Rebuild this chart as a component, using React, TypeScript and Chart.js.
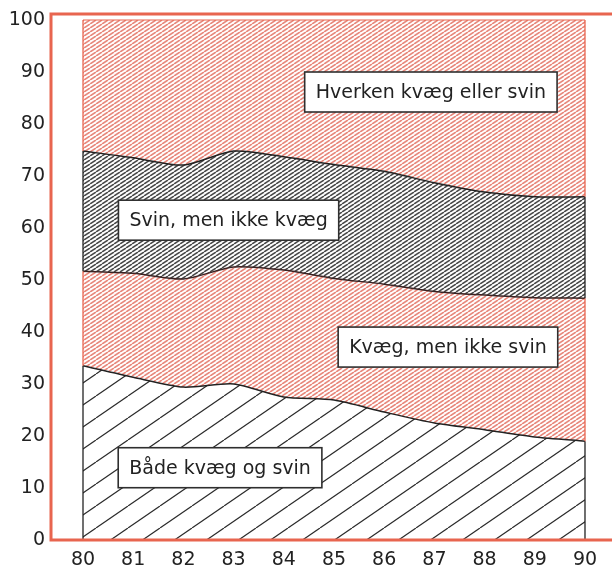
import React, { useEffect, useRef } from "react";
import { Chart, registerables } from "chart.js";

Chart.register(...registerables);

// ---- data ----
const years = [80, 81, 82, 83, 84, 85, 86, 87, 88, 89, 90];
const bothShare = [33.5, 31.3, 29.4, 30.0, 27.5, 26.9, 24.6, 22.5, 21.2, 19.8, 19.0];
const cattleOnlyShare = [18.2, 20.0, 20.8, 22.5, 24.4, 23.4, 24.6, 25.3, 25.9, 26.8, 27.5];
const pigOnlyShare = [23.1, 22.2, 21.9, 22.3, 21.8, 21.9, 21.7, 20.9, 19.8, 19.4, 19.5];
const neitherShare = [25.2, 26.5, 27.9, 25.2, 26.3, 27.8, 29.1, 31.3, 33.1, 34.0, 34.0];
const seriesNames = [
  "Både kvæg og svin",
  "Kvæg, men ikke svin",
  "Svin, men ikke kvæg",
  "Hverken kvæg eller svin",
];
const yTicks = [0, 10, 20, 30, 40, 50, 60, 70, 80, 90, 100];
const xTicks = years;

// label anchors (data coordinates) for the region labels, same order as seriesNames
const labelAnchors = [
  [82.73, 13.9],
  [87.27, 37.1],
  [82.9, 61.5],
  [86.93, 86.15],
];

const FRAME = "#e8654f";
const FONT = "'DejaVu Sans', sans-serif";

function makeHatch(w: number, h: number, bg: string, color: string, lw: number) {
  const c = document.createElement("canvas");
  c.width = w;
  c.height = h;
  const g = c.getContext("2d")!;
  g.fillStyle = bg;
  g.fillRect(0, 0, w, h);
  g.strokeStyle = color;
  g.lineWidth = lw;
  for (const x0 of [-w, 0, w]) {
    g.beginPath();
    g.moveTo(x0, h);
    g.lineTo(x0 + w, 0);
    g.stroke();
  }
  return g.createPattern(c, "repeat")!;
}

export default function App() {
  const ref = useRef<HTMLCanvasElement>(null);
  useEffect(() => {
    const canvas = ref.current!;
    const ctx = canvas.getContext("2d")!;
    const coarse = makeHatch(32, 22, "#ffffff", "#2a2a2a", 1.2);
    const pink = makeHatch(6, 4, "#ffffff", "#e8887c", 1.7);
    const gray = makeHatch(6, 4, "#ffffff", "#484848", 1.5);

    const edgeColors = ["#222222", FRAME, "#222222", FRAME];

    const decor = {
      id: "decor",
      afterDatasetsDraw(chart: any) {
        const c = chart.ctx;
        const area = chart.chartArea;
        const xs = chart.scales.x;
        const ys = chart.scales.y;
        c.save();
        for (let i = 0; i < chart.data.datasets.length; i++) {
          const meta = chart.getDatasetMeta(i);
          const prev = i > 0 ? chart.getDatasetMeta(i - 1) : null;
          for (const idx of [0, years.length - 1]) {
            const top = meta.data[idx].y;
            const bottom = prev ? prev.data[idx].y : ys.getPixelForValue(0);
            const x = xs.getPixelForValue(years[idx]);
            c.strokeStyle = edgeColors[i];
            c.lineWidth = 1.3;
            c.beginPath();
            c.moveTo(x, top);
            c.lineTo(x, bottom);
            c.stroke();
          }
        }
        // frame (top, left, bottom)
        c.strokeStyle = FRAME;
        c.lineWidth = 3;
        c.beginPath();
        c.moveTo(area.right + 2, area.top);
        c.lineTo(area.left, area.top);
        c.lineTo(area.left, area.bottom);
        c.lineTo(area.right + 2, area.bottom);
        c.stroke();
        // label boxes
        c.font = `19px ${FONT}`;
        c.textAlign = "center";
        c.textBaseline = "middle";
        for (let i = 0; i < seriesNames.length; i++) {
          const [lx, ly] = labelAnchors[i];
          const px = xs.getPixelForValue(lx);
          const py = ys.getPixelForValue(ly);
          const tw = c.measureText(seriesNames[i]).width;
          const bw = tw + 22;
          const bh = 40;
          c.fillStyle = "#ffffff";
          c.fillRect(px - bw / 2, py - bh / 2, bw, bh);
          c.strokeStyle = "#2f2f2f";
          c.lineWidth = 1.6;
          c.strokeRect(px - bw / 2, py - bh / 2, bw, bh);
          c.fillStyle = "#222222";
          c.fillText(seriesNames[i], px, py + 1);
        }
        c.restore();
      },
    };

    const mk = (vals: number[]) => years.map((y, i) => ({ x: y, y: vals[i] }));

    const chart = new Chart(ctx, {
      type: "line",
      data: {
        datasets: [
          {
            label: seriesNames[0],
            data: mk(bothShare),
            backgroundColor: coarse as any,
            borderColor: "#222222",
            borderWidth: 1.5,
            fill: "origin",
            pointRadius: 0,
            tension: 0.25,
          },
          {
            label: seriesNames[1],
            data: mk(cattleOnlyShare),
            backgroundColor: pink as any,
            borderColor: "#3a2424",
            borderWidth: 1.5,
            fill: "-1",
            pointRadius: 0,
            tension: 0.25,
          },
          {
            label: seriesNames[2],
            data: mk(pigOnlyShare),
            backgroundColor: gray as any,
            borderColor: "#222222",
            borderWidth: 1.5,
            fill: "-1",
            pointRadius: 0,
            tension: 0.25,
          },
          {
            label: seriesNames[3],
            data: mk(neitherShare),
            backgroundColor: pink as any,
            borderColor: FRAME,
            borderWidth: 1.2,
            fill: "-1",
            pointRadius: 0,
            tension: 0.25,
          },
        ],
      },
      options: {
        animation: false,
        responsive: false,
        layout: { padding: { top: 14, left: 0, right: 0, bottom: 0 } },
        plugins: {
          legend: { display: false },
          tooltip: { enabled: false },
        },
        scales: {
          x: {
            type: "linear",
            min: 79.3625,
            max: 90.538,
            grid: { display: false, drawTicks: false },
            border: { display: false },
            afterBuildTicks: (s: any) => {
              s.ticks = xTicks.map((v) => ({ value: v }));
            },
            afterFit: (s: any) => {
              s.height = 26;
              s.paddingLeft = 0;
              s.paddingRight = 0;
            },
            ticks: {
              autoSkip: false,
              maxRotation: 0,
              padding: 9,
              color: "#222222",
              font: { family: FONT, size: 19 },
              callback: (v: any) => String(v),
            },
          },
          y: {
            stacked: true,
            min: 0,
            max: 101.15,
            grid: { display: false, drawTicks: false },
            border: { display: false },
            afterBuildTicks: (s: any) => {
              s.ticks = yTicks.map((v) => ({ value: v }));
            },
            afterFit: (s: any) => {
              s.width = 51;
              s.paddingTop = 0;
              s.paddingBottom = 0;
            },
            ticks: {
              padding: 6,
              color: "#222222",
              font: { family: FONT, size: 19 },
              callback: (v: any) => String(v),
            },
          },
        },
      },
      plugins: [decor],
    });
    return () => chart.destroy();
  }, []);

  return (
    <div style={{ position: "fixed", left: 0, top: 0, width: 612, height: 566, background: "#fff" }}>
      <canvas ref={ref} width={612} height={566} style={{ display: "block" }} />
    </div>
  );
}
